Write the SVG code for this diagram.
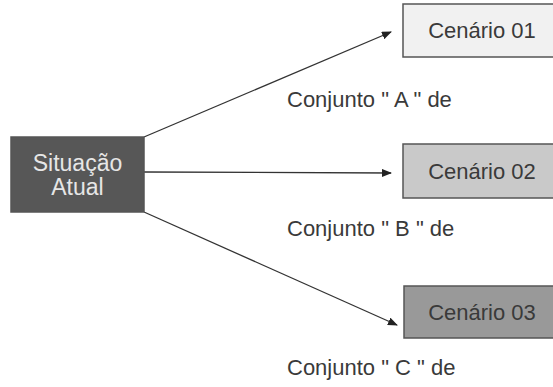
<svg xmlns="http://www.w3.org/2000/svg" width="553" height="387" viewBox="0 0 553 387">
<defs>
<marker id="ah" markerWidth="10" markerHeight="8" refX="9" refY="4" orient="auto" markerUnits="userSpaceOnUse">
<path d="M0,0 L10,4 L0,8 Z" fill="#222"/>
</marker>
<style>
.lbl{font-family:"Liberation Sans",Arial,sans-serif;font-size:22px;fill:#3a3a3a}
.box{stroke:#555;stroke-width:1.5}
.edge{stroke:#333;stroke-width:1.3;fill:none;marker-end:url(#ah)}
</style>
</defs>
<rect width="553" height="387" fill="#fff"/>
<g id="connectors">
<line class="edge" x1="144" y1="137" x2="391" y2="32"/>
<line class="edge" x1="144" y1="172" x2="391" y2="173"/>
<line class="edge" x1="144" y1="212" x2="397" y2="325"/>
</g>
<g id="situacao">
<rect class="box" x="11" y="137" width="133" height="75" fill="#575757" stroke="#3a3a3a"/>
<text class="lbl" x="77.5" y="171" text-anchor="middle" style="fill:#e6e6e6;font-size:23px">Situação</text>
<text class="lbl" x="77.5" y="195" text-anchor="middle" style="fill:#e6e6e6;font-size:23px">Atual</text>
</g>
<g id="cenario01">
<rect class="box" x="403" y="4" width="155" height="53" fill="#f1f1f1"/>
<text class="lbl" x="482" y="38" text-anchor="middle">Cenário 01</text>
</g>
<g id="cenario02">
<rect class="box" x="403" y="144" width="155" height="54" fill="#c9c9c9"/>
<text class="lbl" x="482" y="179" text-anchor="middle">Cenário 02</text>
</g>
<g id="cenario03">
<rect class="box" x="404" y="286" width="155" height="52" fill="#999999"/>
<text class="lbl" x="482" y="320" text-anchor="middle">Cenário 03</text>
</g>
<g id="labels">
<text class="lbl" x="287" y="107" xml:space="preserve">Conjunto " A " de</text>
<text class="lbl" x="287" y="236" xml:space="preserve">Conjunto " B " de</text>
<text class="lbl" x="287" y="375" xml:space="preserve">Conjunto " C " de</text>
</g>
</svg>
